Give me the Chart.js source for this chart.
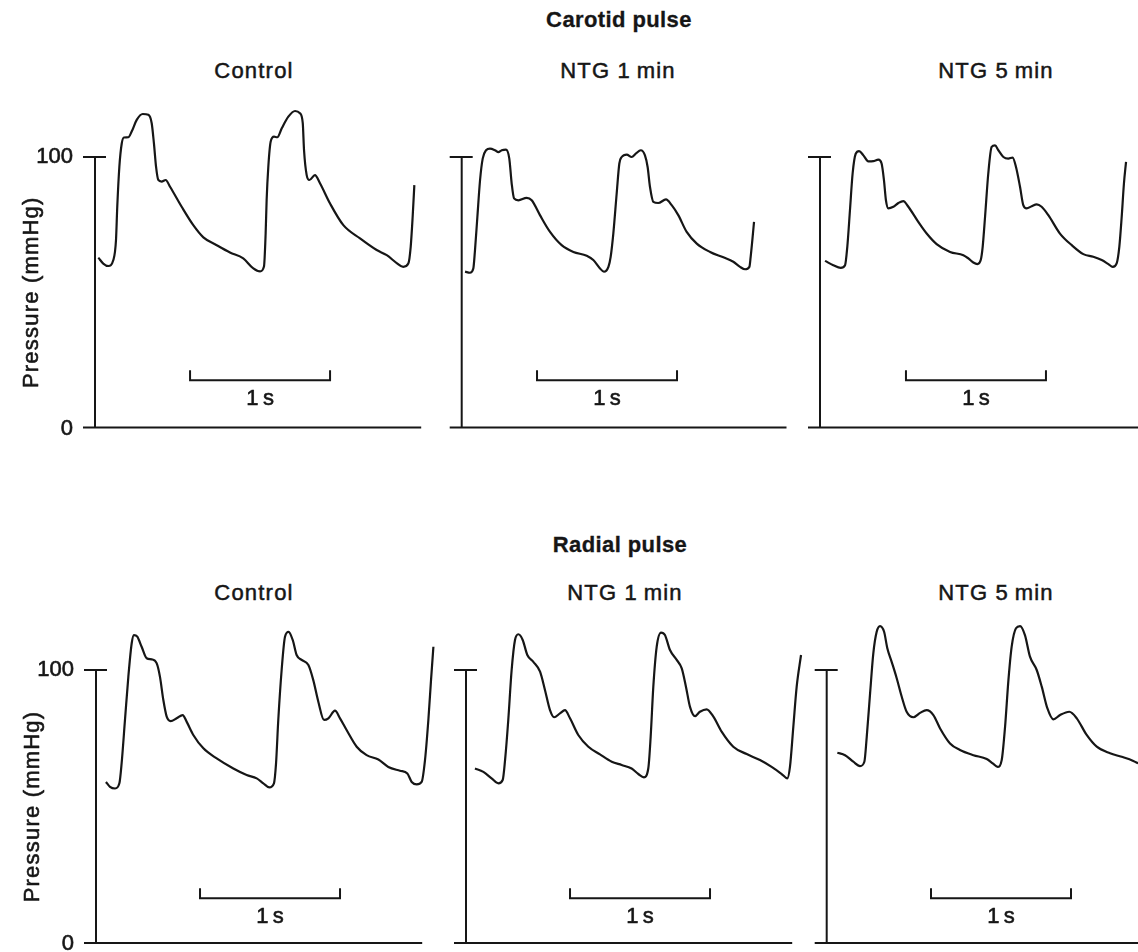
<!DOCTYPE html>
<html>
<head>
<meta charset="utf-8">
<script src="https://cdn.jsdelivr.net/npm/chart.js@4.4.1/dist/chart.umd.min.js"></script>
<style>
  html, body { margin: 0; padding: 0; background: #fff; }
  body { position: relative; width: 1138px; height: 952px; overflow: hidden;
         font-family: "Liberation Sans", Arial, sans-serif; color: #161616; }
  .lbl { position: absolute; transform: translate(-50%, -50%); white-space: nowrap;
         font-size: 22px; line-height: 22px; }
  .head { font-weight: bold; letter-spacing: 0.4px; -webkit-text-stroke: 0.3px #161616; }
  .sub { letter-spacing: 1.2px; -webkit-text-stroke: 0.5px #161616; }
  canvas { position: absolute; left: 0; }
</style>
</head>
<body>
<div class="lbl head" style="left:619px; top:20px">Carotid pulse</div>
<div class="lbl sub" style="left:254px; top:71px">Control</div>
<div class="lbl sub" style="left:618px; top:71px">NTG 1&thinsp;min</div>
<div class="lbl sub" style="left:996px; top:71px">NTG 5&thinsp;min</div>

<div class="lbl head" style="left:620px; top:545px">Radial pulse</div>
<div class="lbl sub" style="left:254px; top:593px">Control</div>
<div class="lbl sub" style="left:625px; top:593px">NTG 1&thinsp;min</div>
<div class="lbl sub" style="left:996px; top:593px">NTG 5&thinsp;min</div>

<canvas id="c1" width="1138" height="476" style="top:0"></canvas>
<canvas id="c2" width="1138" height="476" style="top:0"></canvas>
<canvas id="c3" width="1138" height="476" style="top:0"></canvas>
<canvas id="r1" width="1138" height="476" style="top:476px"></canvas>
<canvas id="r2" width="1138" height="476" style="top:476px"></canvas>
<canvas id="r3" width="1138" height="476" style="top:476px"></canvas>

<script>
// Pressure traces: time (s) from the pressure axis, pressure (mmHg)

// Carotid pulse, control
const carotidControlT = [0.024,0.059,0.095,0.131,0.150,0.159,0.174,0.191,0.207,0.238,0.262,0.298,0.341,0.381,0.405,0.421,0.436,0.452,0.476,0.505,0.536,0.619,0.702,0.774,0.869,0.964,1.059,1.131,1.179,1.207,1.219,1.226,1.238,1.255,1.279,1.302,1.334,1.381,1.429,1.464,1.484,1.493,1.512,1.531,1.571,1.607,1.679,1.774,1.893,2.012,2.084,2.155,2.202,2.238,2.255,2.269,2.281];
const carotidControlP = [62.8,60.6,59.7,61.9,69.3,81.6,96.4,105.0,107.2,107.3,109.4,113.7,115.9,115.6,112.5,105.0,96.4,91.5,90.9,91.5,89.0,81.6,74.8,70.3,67.4,64.7,62.5,58.8,57.7,59.5,71.9,84.1,96.4,105.7,107.5,107.3,110.6,114.9,117.0,116.2,112.5,102.6,93.3,91.5,93.3,90.3,82.8,74.8,69.9,65.6,63.7,60.8,59.4,60.6,66.8,77.9,89.6];

// Carotid pulse, NTG 1 min
const carotidNtg1T = [0.024,0.059,0.083,0.095,0.112,0.131,0.150,0.174,0.202,0.238,0.262,0.286,0.316,0.340,0.357,0.374,0.405,0.464,0.500,0.559,0.631,0.714,0.798,0.893,0.940,0.988,1.016,1.048,1.064,1.083,1.107,1.126,1.143,1.179,1.214,1.245,1.279,1.309,1.328,1.345,1.369,1.404,1.459,1.500,1.547,1.607,1.679,1.774,1.869,1.940,1.988,2.024,2.055,2.064,2.076,2.088];
const carotidNtg1P = [57.6,57.2,58.8,65.6,77.9,91.4,99.4,102.5,103.1,102.5,101.8,102.5,102.7,99.4,90.2,84.7,84.0,84.9,84.0,78.5,72.3,67.4,64.9,63.5,61.9,58.8,57.6,59.4,63.1,71.7,86.5,97.6,100.0,100.9,100.0,101.3,102.5,100.6,96.3,88.9,83.4,83.0,84.3,82.2,78.5,72.3,68.0,64.9,62.9,61.3,59.4,58.5,59.4,63.1,69.3,76.0];

// Carotid pulse, NTG 5 min
const carotidNtg5T = [0.036,0.095,0.148,0.179,0.195,0.214,0.233,0.255,0.279,0.310,0.345,0.381,0.417,0.440,0.457,0.471,0.488,0.524,0.560,0.595,0.631,0.702,0.762,0.833,0.929,1.024,1.060,1.095,1.124,1.148,1.162,1.179,1.202,1.226,1.250,1.274,1.310,1.345,1.376,1.400,1.429,1.452,1.476,1.512,1.548,1.583,1.631,1.714,1.798,1.881,1.952,2.012,2.060,2.091,2.119,2.138,2.155,2.171,2.186];
const carotidNtg5P = [61.6,60.0,59.0,60.0,66.8,80.3,93.9,101.2,102.2,100.6,98.4,98.5,99.0,97.6,91.4,84.0,81.0,81.6,83.0,83.7,81.6,76.0,71.7,67.8,64.9,63.7,62.5,61.0,60.4,61.9,66.8,77.9,93.9,103.7,104.3,102.5,100.0,99.4,99.8,96.3,88.9,82.2,81.0,81.8,82.5,81.6,78.5,71.7,67.4,64.1,63.1,61.9,60.4,59.4,60.7,66.8,77.9,90.2,98.2];

// Radial pulse, control
const radialControlT = [0.071,0.100,0.136,0.167,0.183,0.207,0.231,0.255,0.271,0.295,0.326,0.362,0.398,0.433,0.457,0.481,0.505,0.533,0.576,0.619,0.648,0.695,0.767,0.862,0.981,1.076,1.148,1.195,1.238,1.271,1.286,1.302,1.326,1.350,1.376,1.405,1.433,1.469,1.517,1.552,1.588,1.629,1.660,1.707,1.743,1.790,1.862,1.933,2.017,2.088,2.171,2.224,2.255,2.291,2.326,2.350,2.374,2.393,2.410];
const radialControlP = [59.0,57.2,56.6,58.5,65.8,81.7,97.5,109.8,112.8,112.2,108.5,104.3,103.9,102.5,97.5,89.0,82.9,81.3,82.3,83.5,81.0,76.2,71.3,67.6,63.9,61.5,60.3,58.5,57.0,58.5,65.8,81.7,100.0,112.2,114.0,111.0,105.5,103.7,101.8,96.3,88.4,81.7,82.3,85.1,82.3,78.0,71.9,68.8,67.2,64.5,63.1,62.1,59.0,58.1,59.0,67.0,81.7,96.3,108.5];

// Radial pulse, NTG 1 min
const radialNtg1T = [0.064,0.124,0.183,0.231,0.262,0.279,0.302,0.326,0.350,0.374,0.405,0.438,0.481,0.529,0.564,0.600,0.629,0.671,0.707,0.743,0.802,0.874,0.957,1.041,1.112,1.183,1.231,1.271,1.302,1.319,1.338,1.362,1.393,1.421,1.457,1.505,1.541,1.571,1.600,1.636,1.671,1.719,1.767,1.826,1.909,2.005,2.100,2.183,2.255,2.295,2.314,2.338,2.362,2.393];
const radialNtg1P = [63.9,62.7,60.3,58.5,59.7,67.0,81.7,100.0,111.0,113.1,111.0,105.5,103.0,99.4,92.7,85.3,82.7,84.1,85.3,82.3,76.2,71.9,69.1,66.4,65.2,63.9,61.9,60.7,63.9,75.5,93.9,108.5,113.7,112.8,107.3,103.7,100.6,93.9,86.5,83.1,84.7,85.6,82.9,77.4,71.9,69.2,67.0,64.5,61.9,60.3,64.5,79.2,93.9,105.5];

// Radial pulse, NTG 5 min
const radialNtg5T = [0.076,0.131,0.190,0.238,0.269,0.286,0.310,0.333,0.357,0.381,0.410,0.433,0.464,0.500,0.536,0.571,0.619,0.667,0.714,0.762,0.810,0.881,0.952,1.048,1.143,1.186,1.221,1.250,1.274,1.298,1.321,1.352,1.381,1.416,1.452,1.500,1.536,1.576,1.619,1.667,1.733,1.786,1.857,1.929,2.024,2.107,2.190,2.224];
const radialNtg5P = [69.7,68.8,66.4,64.8,66.4,75.5,91.5,106.1,114.0,116.1,114.0,108.0,103.0,97.0,90.2,84.7,82.7,84.3,85.3,83.5,78.6,73.1,70.7,68.8,67.4,65.8,64.5,67.0,79.2,96.3,108.5,115.3,116.1,112.8,104.9,100.0,93.9,86.0,81.9,83.5,84.7,82.3,76.2,71.9,69.5,68.2,66.7,65.8];

// Axis ticks (mmHg) and the time calibration bar (s)
const pressureTicks = [0, 100];
const pressureTickLabels = ['100', '0'];
const calibrationSeconds = 1;
const calibrationLabel = '1\u2009s';
const calibrationStart = [0.679, 0.538, 0.614, 0.743, 0.743, 0.745];

const INK = '#161616';
const PX_PER_SECOND = 140;
const Y_MAX = 125;

// Row geometry (page pixels)
const rows = [
  { top: 0,   height: 476, zeroY: 427.5, hundredY: 157, barLevel: 17.5 },
  { top: 476, height: 476, zeroY: 943,   hundredY: 670, barLevel: 16.4 }
];

const panels = [
  { id: 'c1', row: 0, axisX: 95,    t: carotidControlT, p: carotidControlP, axisEnd: 2.33, labels: true },
  { id: 'c2', row: 0, axisX: 461.7, t: carotidNtg1T,    p: carotidNtg1P,    axisEnd: 2.32 },
  { id: 'c3', row: 0, axisX: 820,   t: carotidNtg5T,    p: carotidNtg5P,    axisEnd: 2.6 },
  { id: 'r1', row: 1, axisX: 96,    t: radialControlT,  p: radialControlP,  axisEnd: 2.33, labels: true },
  { id: 'r2', row: 1, axisX: 466,   t: radialNtg1T,     p: radialNtg1P,     axisEnd: 2.33 },
  { id: 'r3', row: 1, axisX: 826.7, t: radialNtg5T,     p: radialNtg5P,     axisEnd: 2.6 }
];

// Fills a label and traces its outline lightly so it prints a little heavier
function inkText(ctx, text, x, y) {
  ctx.fillText(text, x, y);
  ctx.strokeText(text, x, y);
}

// Draws the pressure axis, baseline, calibration bar and their labels
const pulseFrame = {
  id: 'pulseFrame',
  afterDatasetsDraw(chart, args, o) {
    const { ctx } = chart;
    const x = chart.scales.x, y = chart.scales.y;
    const x0 = x.getPixelForValue(0);
    const yLow = y.getPixelForValue(pressureTicks[0]);
    const yHigh = y.getPixelForValue(pressureTicks[1]);
    ctx.save();
    ctx.strokeStyle = INK;
    ctx.lineWidth = 2;
    ctx.lineCap = 'butt';
    ctx.beginPath();
    ctx.moveTo(x0, yHigh); ctx.lineTo(x0, yLow);
    ctx.moveTo(x0 - 12, yHigh); ctx.lineTo(x0 + 11, yHigh);
    ctx.moveTo(x0 - 12, yLow); ctx.lineTo(x.getPixelForValue(o.axisEnd), yLow);
    ctx.stroke();

    const b0 = x.getPixelForValue(o.barStart);
    const b1 = x.getPixelForValue(o.barStart + calibrationSeconds);
    const by = y.getPixelForValue(o.barLevel);
    ctx.beginPath();
    ctx.moveTo(b0, by - 10); ctx.lineTo(b0, by); ctx.lineTo(b1, by); ctx.lineTo(b1, by - 10);
    ctx.stroke();

    ctx.fillStyle = INK;
    ctx.lineWidth = 0.6;
    ctx.lineJoin = 'round';
    ctx.font = '22px "Liberation Sans", Arial, sans-serif';
    ctx.textAlign = 'center';
    ctx.textBaseline = 'middle';
    inkText(ctx, calibrationLabel, (b0 + b1) / 2, by + 19);

    if (o.labels) {
      ctx.textAlign = 'right';
      inkText(ctx, pressureTickLabels[0], x0 - 22, yHigh);
      inkText(ctx, pressureTickLabels[1], x0 - 22, yLow + 1);
      ctx.save();
      ctx.translate(x0 - 63, (yLow + yHigh) / 2);
      ctx.rotate(-Math.PI / 2);
      ctx.textAlign = 'center';
      try { ctx.letterSpacing = '1.2px'; } catch (e) {}
      inkText(ctx, 'Pressure (mmHg)', 0, 0);
      ctx.restore();
    }
    ctx.restore();
  }
};

panels.forEach((pn, i) => {
  const row = rows[pn.row];
  const k = (row.zeroY - row.hundredY) / 100;
  const areaTop = row.zeroY - Y_MAX * k;
  const canvas = document.getElementById(pn.id);
  const width = canvas.width;
  new Chart(canvas, {
    type: 'line',
    data: {
      datasets: [{
        data: pn.t.map((t, j) => ({ x: t, y: pn.p[j] })),
        borderColor: INK,
        borderWidth: 2.2,
        pointRadius: 0,
        fill: false,
        cubicInterpolationMode: 'monotone'
      }]
    },
    options: {
      responsive: false,
      animation: false,
      devicePixelRatio: 1,
      layout: {
        padding: {
          left: pn.axisX,
          right: 0,
          top: areaTop - row.top,
          bottom: row.top + row.height - row.zeroY
        }
      },
      scales: {
        x: { type: 'linear', display: false, min: 0, max: (width - pn.axisX) / PX_PER_SECOND },
        y: { type: 'linear', display: false, min: 0, max: Y_MAX }
      },
      plugins: {
        legend: { display: false },
        tooltip: { enabled: false },
        pulseFrame: {
          axisEnd: pn.axisEnd,
          barStart: calibrationStart[i],
          barLevel: row.barLevel,
          labels: !!pn.labels
        }
      },
      events: []
    },
    plugins: [pulseFrame]
  });
});
</script>
</body>
</html>
